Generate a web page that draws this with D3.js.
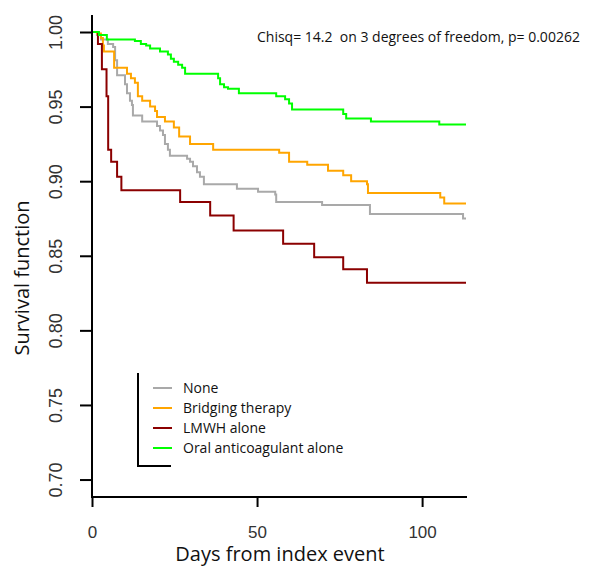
<!DOCTYPE html>
<html>
<head>
<meta charset="utf-8">
<script src="https://cdn.jsdelivr.net/npm/d3@7"></script>
<style>
body { margin: 0; background: #fff; }
</style>
</head>
<body>
<svg id="chart" width="597" height="566"></svg>
<script>
// groups + colours (R style)
var groups = ["None", "Bridging therapy", "LMWH alone", "Oral anticoagulant alone"];
var colors = ["#a9a9a9", "#ffa500", "#8b0000", "#00ff00"];

// step times (days) and survival after each step
var noneDays = [1.5, 2.7, 4.8, 6.4, 7.0, 7.6, 10.0, 10.6, 11.5, 12.1, 12.4, 15.2, 19.7, 20.6, 21.5, 22.1, 23.0, 23.6, 28.8, 29.7, 30.6, 31.8, 32.7, 33.9, 43.9, 50.3, 55.5, 55.8, 69.7, 84.2, 112.4];
var noneSurv = [0.998, 0.995, 0.992, 0.990, 0.981, 0.971, 0.965, 0.959, 0.954, 0.951, 0.944, 0.940, 0.937, 0.934, 0.931, 0.925, 0.921, 0.917, 0.915, 0.913, 0.910, 0.906, 0.903, 0.898, 0.895, 0.893, 0.891, 0.886, 0.884, 0.878, 0.875];

var bridgeDays = [1.5, 2.7, 3.3, 3.6, 6.7, 10.6, 11.8, 13.0, 13.9, 15.2, 17.6, 19.1, 19.7, 22.1, 24.8, 26.4, 29.7, 36.7, 56.7, 59.7, 65.2, 71.5, 76.1, 78.5, 83.3, 83.6, 105.5, 106.7];
var bridgeSurv = [0.999, 0.996, 0.991, 0.987, 0.976, 0.972, 0.969, 0.966, 0.957, 0.954, 0.950, 0.947, 0.943, 0.940, 0.936, 0.930, 0.925, 0.921, 0.919, 0.913, 0.911, 0.907, 0.904, 0.900, 0.898, 0.892, 0.889, 0.885];

var lmwhDays = [1.8, 3.0, 4.4, 4.9, 5.8, 7.6, 8.9, 26.7, 35.8, 42.9, 57.9, 67.3, 76.1, 83.3];
var lmwhSurv = [0.992, 0.975, 0.957, 0.921, 0.913, 0.903, 0.894, 0.886, 0.877, 0.867, 0.858, 0.849, 0.841, 0.832];

var oralDays = [2.1, 4.5, 13.0, 14.8, 16.4, 17.6, 20.6, 23.0, 23.9, 24.8, 26.1, 27.3, 28.2, 38.2, 38.8, 40.0, 41.2, 44.5, 55.8, 58.5, 59.7, 60.6, 76.1, 77.0, 84.5, 105.2];
var oralSurv = [0.998, 0.995, 0.994, 0.992, 0.991, 0.989, 0.987, 0.985, 0.982, 0.980, 0.978, 0.976, 0.972, 0.969, 0.965, 0.963, 0.962, 0.959, 0.957, 0.955, 0.952, 0.948, 0.945, 0.942, 0.940, 0.938];

var lastDay = 113.3;
var xTicks = [0, 50, 100];
var yTicks = [0.70, 0.75, 0.80, 0.85, 0.90, 0.95, 1.00];
var statText = "Chisq= 14.2  on 3 degrees of freedom, p= 0.00262";

var svg = d3.select("#chart");

// scales (plot region is the L box)
var x = d3.scaleLinear().domain([0, 113.6]).range([92, 467]);
var y = d3.scaleLinear().domain([0.6883, 1.0114]).range([497, 15]);

var series = [[noneDays, noneSurv], [bridgeDays, bridgeSurv], [lmwhDays, lmwhSurv], [oralDays, oralSurv]];

var line = d3.line()
    .x(function (d) { return x(d[0]); })
    .y(function (d) { return y(d[1]); })
    .curve(d3.curveStepAfter);

series.forEach(function (s, i) {
    var pts = [[0, 1]];
    s[0].forEach(function (d, j) { pts.push([d, s[1][j]]); });
    pts.push([lastDay, s[1][s[1].length - 1]]);
    svg.append("path")
        .attr("d", line(pts))
        .attr("fill", "none")
        .attr("stroke", colors[i])
        .attr("stroke-width", 2);
});

// axes
var yAxis = svg.append("g")
    .attr("transform", "translate(92,0)")
    .call(d3.axisLeft(y).tickValues(yTicks).tickSize(12).tickFormat(d3.format(".2f")));
yAxis.select(".domain").remove();
yAxis.selectAll("line").attr("stroke", "#000").attr("stroke-width", 2);
yAxis.selectAll("text")
    .attr("x", null).attr("dy", null)
    .attr("text-anchor", "middle")
    .attr("transform", "translate(-30,0) rotate(-90)")
    .attr("fill", "#333")
    .style("font-family", "Liberation Sans, Arial, sans-serif")
    .style("font-size", "18px");

var xAxis = svg.append("g")
    .attr("transform", "translate(0,497)")
    .call(d3.axisBottom(x).tickValues(xTicks).tickSize(10).tickFormat(d3.format("d")));
xAxis.select(".domain").remove();
xAxis.selectAll("line").attr("stroke", "#000").attr("stroke-width", 2);
xAxis.selectAll("text")
    .attr("y", 41).attr("dy", null)
    .attr("fill", "#333")
    .style("font-family", "Liberation Sans, Arial, sans-serif")
    .style("font-size", "17px");

// L box
svg.append("line").attr("x1", 92).attr("x2", 92).attr("y1", 15).attr("y2", 497)
    .attr("stroke", "#000").attr("stroke-width", 2);
svg.append("line").attr("x1", 91).attr("x2", 467).attr("y1", 497).attr("y2", 497)
    .attr("stroke", "#000").attr("stroke-width", 2);

// axis titles
svg.append("text")
    .attr("x", 280).attr("y", 561)
    .attr("text-anchor", "middle")
    .style("font-family", "Open Sans, sans-serif")
    .style("font-size", "20px")
    .attr("fill", "#111")
    .text("Days from index event");

svg.append("text")
    .attr("transform", "translate(29,278) rotate(-90)")
    .attr("text-anchor", "middle")
    .style("font-family", "Open Sans, sans-serif")
    .style("font-size", "20px")
    .attr("fill", "#111")
    .text("Survival function");

// test statistic
svg.append("text")
    .attr("x", 257).attr("y", 42)
    .attr("xml:space", "preserve")
    .style("white-space", "pre")
    .style("font-family", "Open Sans, sans-serif")
    .style("font-size", "14px")
    .attr("fill", "#111")
    .text(statText);

// legend
var leg = svg.append("g");
leg.append("path")
    .attr("d", "M138,373V466H171")
    .attr("fill", "none")
    .attr("stroke", "#000")
    .attr("stroke-width", 2);
groups.forEach(function (g, i) {
    var ly = 388 + i * 20;
    leg.append("line")
        .attr("x1", 153).attr("x2", 172).attr("y1", ly).attr("y2", ly)
        .attr("stroke", colors[i]).attr("stroke-width", 2);
    leg.append("text")
        .attr("x", 183).attr("y", ly).attr("dy", "0.35em")
        .style("font-family", "Open Sans, sans-serif")
        .style("font-size", "14px")
        .attr("fill", "#111")
        .text(g);
});
</script>
</body>
</html>
